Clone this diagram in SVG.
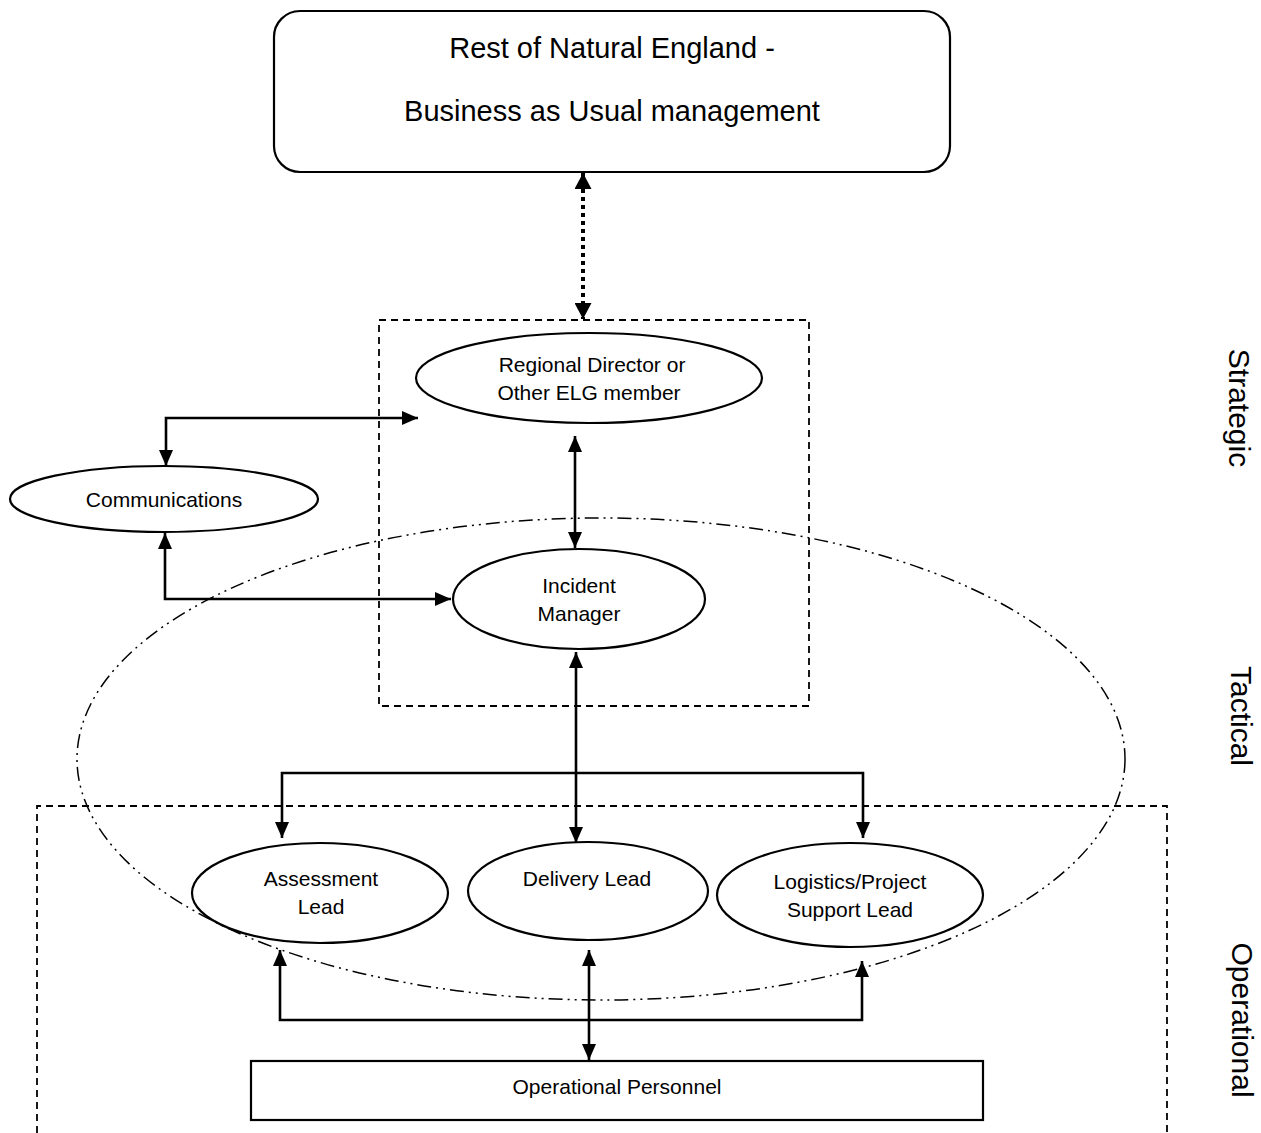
<svg xmlns="http://www.w3.org/2000/svg" width="1261" height="1133" viewBox="0 0 1261 1133">
  <style>
    .node { fill: #fff; stroke: #000; stroke-width: 2.2; }
    .zone { fill: none; stroke: #000; stroke-width: 1.8; stroke-dasharray: 7 5; }
    .tier { fill: none; stroke: #000; stroke-width: 1.5; stroke-dasharray: 14 5 2 5 2 5; }
    .link { fill: none; stroke: #000; stroke-width: 2.6; }
    .dots { fill: none; stroke: #000; stroke-width: 4; stroke-dasharray: 4 4; }
    text { font-family: "Liberation Sans", Arial, sans-serif; fill: #000; text-anchor: middle; }
    .big { font-size: 29px; }
    .lbl { font-size: 21px; }
    .side { font-size: 30px; }
  </style>
  <defs>
    <marker id="arrow" viewBox="0 0 16 14" refX="16" refY="7" markerWidth="16" markerHeight="14" markerUnits="userSpaceOnUse" orient="auto-start-reverse">
      <path d="M0,0 L16,7 L0,14 Z" fill="#000"/>
    </marker>
    <marker id="arrowBig" viewBox="0 0 16 17" refX="16" refY="8.5" markerWidth="16" markerHeight="17" markerUnits="userSpaceOnUse" orient="auto-start-reverse">
      <path d="M0,0 L16,8.5 L0,17 Z" fill="#000"/>
    </marker>
  </defs>

  <rect width="1261" height="1133" fill="#fff"/>

  <!-- tier boundaries -->
  <g id="zones">
    <ellipse class="tier" cx="601" cy="759" rx="524" ry="241"/>
    <rect class="zone" x="379" y="320" width="430" height="386"/>
    <path class="zone" d="M37,1133 V806 H1167 V1133"/>
  </g>

  <!-- connectors -->
  <g id="connectors">
    <line class="dots" x1="583" y1="173" x2="583" y2="319" marker-start="url(#arrowBig)" marker-end="url(#arrowBig)"/>
    <path class="link" d="M166,466 V418 H418" marker-start="url(#arrow)" marker-end="url(#arrow)"/>
    <path class="link" d="M165,533 V599 H451" marker-start="url(#arrow)" marker-end="url(#arrow)"/>
    <line class="link" x1="575" y1="436" x2="575" y2="548" marker-start="url(#arrow)" marker-end="url(#arrow)"/>
    <line class="link" x1="576" y1="652" x2="576" y2="843" marker-start="url(#arrow)" marker-end="url(#arrow)"/>
    <path class="link" d="M282,838 V773 H863 V838" marker-start="url(#arrow)" marker-end="url(#arrow)"/>
    <path class="link" d="M280,950 V1020 H862 V961" marker-start="url(#arrow)" marker-end="url(#arrow)"/>
    <line class="link" x1="589" y1="950" x2="589" y2="1060" marker-start="url(#arrow)" marker-end="url(#arrow)"/>
  </g>

  <!-- nodes -->
  <g id="business-as-usual">
    <rect class="node" x="274" y="11" width="676" height="161" rx="26"/>
    <text class="big" x="612" y="58">Rest of Natural England -</text>
    <text class="big" x="612" y="121">Business as Usual management</text>
  </g>
  <g id="regional-director">
    <ellipse class="node" cx="589" cy="378" rx="173" ry="45"/>
    <text class="lbl" x="592" y="372">Regional Director or</text>
    <text class="lbl" x="589" y="400">Other ELG member</text>
  </g>
  <g id="communications">
    <ellipse class="node" cx="164" cy="499" rx="154" ry="33"/>
    <text class="lbl" x="164" y="507">Communications</text>
  </g>
  <g id="incident-manager">
    <ellipse class="node" cx="579" cy="599" rx="126" ry="50"/>
    <text class="lbl" x="579" y="593">Incident</text>
    <text class="lbl" x="579" y="621">Manager</text>
  </g>
  <g id="assessment-lead">
    <ellipse class="node" cx="320" cy="893" rx="128" ry="50"/>
    <text class="lbl" x="321" y="886">Assessment</text>
    <text class="lbl" x="321" y="914">Lead</text>
  </g>
  <g id="delivery-lead">
    <ellipse class="node" cx="588" cy="891" rx="120" ry="49"/>
    <text class="lbl" x="587" y="886">Delivery Lead</text>
  </g>
  <g id="logistics-lead">
    <ellipse class="node" cx="850" cy="895" rx="133" ry="52"/>
    <text class="lbl" x="850" y="889">Logistics/Project</text>
    <text class="lbl" x="850" y="917">Support Lead</text>
  </g>
  <g id="operational-personnel">
    <rect class="node" x="251" y="1061" width="732" height="59"/>
    <text class="lbl" x="617" y="1094">Operational Personnel</text>
  </g>

  <!-- tier labels -->
  <g id="tier-labels">
    <text class="side" transform="translate(1229,408) rotate(90)">Strategic</text>
    <text class="side" transform="translate(1231,716) rotate(90)">Tactical</text>
    <text class="side" transform="translate(1232,1020) rotate(90)">Operational</text>
  </g>
</svg>
